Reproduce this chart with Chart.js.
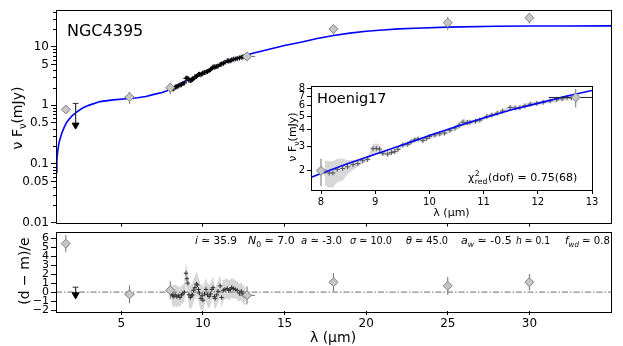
<!DOCTYPE html>
<html><head><meta charset="utf-8">
<script src="https://cdn.jsdelivr.net/npm/chart.js@4.4.0/dist/chart.umd.min.js"></script>
<style>
html,body{margin:0;padding:0;background:#fff;}
#wrap{position:relative;width:623px;height:346px;overflow:hidden;background:#fff;}
canvas{position:absolute;}
</style></head><body>
<div id="wrap">
<canvas id="main" width="623" height="228" style="left:0;top:0;width:623px;height:228px;z-index:1"></canvas>
<canvas id="resid" width="623" height="120" style="left:0;top:226px;width:623px;height:120px;z-index:2"></canvas>
<canvas id="inset" width="345" height="140" style="left:260px;top:80px;width:345px;height:140px;z-index:3"></canvas>
</div>
<script>
// ---------------- data ----------------
const modelLam  = [1.0,1.05,1.1,1.15,1.2,1.3,1.4,1.5,1.65,1.8,2.0,2.3,2.66,3.0,3.7,4.5,5.5,6.0,6.5,7.0,7.5,7.8,8.0,8.5,9.0,9.5,10.0,10.5,11.0,11.5,12.0,12.5,13.0,14.0,15.0,16.0,17.0,18.0,19.0,20.0,21.0,22.0,23.0,25.0,28.0,30.0,32.0,35.0];
const modelFlux = [0.072,0.11,0.16,0.20,0.24,0.30,0.36,0.42,0.51,0.58,0.67,0.78,0.91,1.0,1.16,1.24,1.31,1.35,1.42,1.54,1.66,1.78,1.91,2.26,2.64,3.08,3.62,4.2,4.86,5.55,6.2,6.95,7.7,9.0,10.5,12.0,13.9,15.6,17.1,18.4,19.4,20.2,20.8,21.7,22.4,22.6,22.7,22.8];

const photLam      = [1.6, 5.5, 8.0, 12.7, 18.0, 25.0, 30.0];
const photFlux     = [0.85, 1.38, 2.0, 6.85, 20.0, 25.8, 31.4];
const photErr      = [0, 0.32, 0.45, 1.05, 4.0, 6.5, 6.5];
const photLamErr   = [0, 0.3, 0, 0.5, 0, 0, 0];
const photResid    = [5.4, -0.25, 0.2, -0.35, 1.1, 0.7, 1.1];
const photResidErr = [0.95, 1.0, 1.0, 1.0, 1.0, 1.0, 0.9];

const ulLam = [2.2];
const ulTop = [1.08];
const ulTip = [0.46];
const ulResid = [-0.3];
const ulResidTop = [0.55];

const specLam = [8.07,8.15,8.22,8.30,8.40,8.49,8.59,8.68,8.77,8.86,8.96,9.02,9.08,9.14,9.23,9.30,9.36,9.42,9.51,9.60,9.66,9.73,9.79,9.88,9.95,10.00,10.10,10.19,10.28,10.38,10.47,10.55,10.62,10.70,10.75,10.85,10.93,11.06,11.15,11.25,11.35,11.49,11.58,11.67,11.76,11.86,11.98,12.10,12.23,12.35,12.45,12.54,12.62];
const specFlux = [1.97,1.93,1.93,2.05,2.08,2.14,2.22,2.26,2.37,2.42,2.90,2.91,2.88,2.68,2.65,2.72,2.76,2.87,3.09,3.12,3.25,3.36,3.41,3.33,3.45,3.56,3.65,3.72,3.77,3.95,4.10,4.30,4.52,4.50,4.52,4.60,4.68,4.98,5.10,5.25,5.45,5.78,5.75,5.78,5.95,6.12,6.20,6.32,6.46,6.60,6.70,6.83,6.80];
const specErr  = [0.40,0.42,0.42,0.40,0.38,0.25,0.18,0.12,0.10,0.10,0.25,0.25,0.22,0.10,0.10,0.10,0.10,0.10,0.12,0.12,0.12,0.12,0.12,0.12,0.12,0.13,0.13,0.13,0.13,0.14,0.15,0.25,0.28,0.20,0.15,0.15,0.15,0.16,0.16,0.17,0.18,0.20,0.18,0.18,0.18,0.19,0.20,0.20,0.20,0.22,0.24,0.25,0.25];
const specResid    = [-0.2,-0.4,-0.5,-0.3,-0.5,-0.4,-0.6,-0.3,-0.2,0.0,2.1,1.5,1.0,-0.3,-0.6,-0.4,-0.3,0.2,0.5,0.9,0.8,0.3,-0.1,-0.7,-0.4,-0.9,-0.2,0.3,-0.3,-0.5,-0.2,0.3,0.5,-0.5,-0.7,-0.3,0.1,0.7,-0.6,0.2,0.3,0.4,0.2,0.3,0.5,0.4,0.3,0.2,-0.1,0.1,-0.2,-0.4,-0.5];
const specResidErr = [1.1,1.2,1.2,1.2,1.2,1.1,1.1,1.0,1.0,1.1,1.2,1.2,1.2,1.3,1.3,1.3,1.3,1.3,1.3,1.3,1.3,1.3,1.4,1.4,1.4,1.4,1.3,1.3,1.3,1.3,1.2,1.2,1.2,1.2,1.2,1.2,1.2,1.2,1.2,1.2,1.1,1.1,1.1,1.1,1.1,1.1,1.0,1.0,1.0,1.0,1.0,1.0,1.0];

const xTicksMain   = [5,10,15,20,25,30];
const yTicksMain   = [0.01,0.05,0.1,0.5,1,5,10];
const yLabelsMain  = ['0.01','0.05','0.1','0.5','1','5','10'];
const yMinorMain   = [0.02,0.03,0.04,0.06,0.07,0.08,0.09,0.2,0.3,0.4,0.6,0.7,0.8,0.9,2,3,4,6,7,8,9,20,30,40];
const yTicksResid  = [-2,-1,0,1,2,3,4,5,6];
const xTicksInset  = [8,9,10,11,12,13];
const yTicksInset  = [2,3,4,5,6,7,8];

// ---------------- helpers ----------------
const FONT = "'DejaVu Sans', 'Noto Sans', sans-serif";
Chart.defaults.font.family = FONT;
Chart.defaults.color = '#000';

const pts = (xs, ys) => xs.map((x, i) => ({x, y: ys[i]}));
function errV(xs, ys, es, color, order) {
  const out = [];
  xs.forEach((x, i) => { if (!es[i]) return;
    out.push({data: [{x, y: ys[i] - es[i]}, {x, y: ys[i] + es[i]}], showLine: true, borderColor: color, borderWidth: 1, pointRadius: 0, fill: false, order}); });
  return out;
}
function errH(xs, ys, es, color, order) {
  const out = [];
  xs.forEach((x, i) => { if (!es[i]) return;
    out.push({data: [{x: x - es[i], y: ys[i]}, {x: x + es[i], y: ys[i]}], showLine: true, borderColor: color, borderWidth: 1, pointRadius: 0, fill: false, order}); });
  return out;
}
function upperLimit(xs, tops, tips, color, order) {
  const out = [];
  xs.forEach((x, i) => {
    out.push({data: [{x, y: tops[i]}, {x, y: tips[i]}], showLine: true, borderColor: color, borderWidth: 1, pointRadius: 0, order});
    out.push({data: [{x: x - 0.18, y: tops[i]}, {x: x + 0.18, y: tops[i]}], showLine: true, borderColor: color, borderWidth: 1, pointRadius: 0, order});
  });
  out.push({data: pts(xs, tips), pointStyle: 'triangle', rotation: 180, pointRadius: 4, backgroundColor: '#000', borderColor: '#000', borderWidth: 1, order: 0});
  return out;
}
function band(xs, ys, es, color, order) {
  return [
    {data: xs.map((x, i) => ({x, y: ys[i] - es[i]})), showLine: true, borderWidth: 0, borderColor: 'rgba(0,0,0,0)', pointRadius: 0, fill: false, order},
    {data: xs.map((x, i) => ({x, y: ys[i] + es[i]})), showLine: true, borderWidth: 0, borderColor: 'rgba(0,0,0,0)', pointRadius: 0, fill: '-1', backgroundColor: color, order}
  ];
}
function fixAxis(size, horizontal) {
  return s => { if (horizontal) s.height = size; else s.width = size;
    s.paddingLeft = 0; s.paddingRight = 0; s.paddingTop = 0; s.paddingBottom = 0; };
}
function fontFor(s, size) {
  const sz = (s.sub || s.sup) ? size * 0.7 : size;
  return (s.it ? 'italic ' : '') + sz + 'px ' + FONT;
}
function rich(ctx, x, y, segs, size, draw) {
  let cx = x;
  for (const s of segs) {
    if (s.stack) {
      ctx.font = size * 0.7 + 'px ' + FONT;
      const w1 = ctx.measureText(s.stack[0]).width, w2 = ctx.measureText(s.stack[1]).width;
      if (draw) { ctx.fillText(s.stack[0], cx + 0.5, y - size * 0.45); ctx.fillText(s.stack[1], cx + 0.5, y + size * 0.25); }
      cx += Math.max(w1, w2) + 1; continue;
    }
    ctx.font = fontFor(s, size);
    const dy = s.sub ? size * 0.25 : (s.sup ? -size * 0.42 : 0);
    if (draw) ctx.fillText(s.t, cx, y + dy);
    cx += ctx.measureText(s.t).width;
  }
  return cx - x;
}
function richAt(ctx, x, y, segs, size, maxW) {
  ctx.save();
  ctx.textBaseline = 'alphabetic'; ctx.textAlign = 'left'; ctx.fillStyle = '#000';
  const w = rich(ctx, 0, 0, segs, size, false);
  let sx = 1; if (maxW && w > maxW) sx = maxW / w;
  ctx.translate(x, y); ctx.scale(sx, 1);
  rich(ctx, 0, 0, segs, size, true);
  ctx.restore();
}
function richCenter(ctx, cx, cy, segs, size, rotate) {
  ctx.save();
  ctx.textBaseline = 'alphabetic'; ctx.textAlign = 'left'; ctx.fillStyle = '#000';
  const w = rich(ctx, 0, 0, segs, size, false);
  ctx.translate(cx, cy); if (rotate) ctx.rotate(-Math.PI / 2);
  rich(ctx, -w / 2, size * 0.36, segs, size, true);
  ctx.restore();
}
const framePlugin = {
  id: 'frame',
  beforeDraw(chart, args, opts) {
    if (!opts.bg) return;
    const a = chart.chartArea, ctx = chart.ctx;
    ctx.save(); ctx.fillStyle = '#fff'; ctx.fillRect(a.left, a.top, a.right - a.left, a.bottom - a.top); ctx.restore();
  },
  afterDraw(chart, args, opts) {
    const a = chart.chartArea, ctx = chart.ctx;
    ctx.save(); ctx.strokeStyle = '#000'; ctx.lineWidth = 1;
    ctx.strokeRect(Math.round(a.left) + 0.5, Math.round(a.top) + 0.5, Math.round(a.right - a.left), Math.round(a.bottom - a.top));
    ctx.restore();
    if (opts.extra) opts.extra(chart);
  }
};
Chart.register(framePlugin);

function baseOptions(padding, scales, extra, bg) {
  return {
    responsive: false, maintainAspectRatio: false, devicePixelRatio: 1, animation: false, events: [],
    layout: {padding},
    plugins: {legend: {display: false}, tooltip: {enabled: false}, frame: {extra, bg}},
    scales
  };
}
const tickGrid = len => ({drawOnChartArea: false, drawTicks: true, tickLength: len, color: '#000', tickColor: '#000', tickWidth: 1});

// ---------------- main panel ----------------
const diamondStyle = {pointStyle: 'rectRot', pointRadius: 4.5, backgroundColor: '#c6c6c6', borderColor: '#808080', borderWidth: 1, showLine: false};
const ERR = '#6e6e6e';

new Chart(document.getElementById('main'), {
  type: 'scatter',
  data: {datasets: [
    {data: pts(photLam, photFlux), ...diamondStyle, order: 0},
    ...upperLimit(ulLam, ulTop, ulTip, '#333', 2),
    {data: pts(specLam, specFlux), pointStyle: 'cross', pointRadius: 2.5, borderColor: '#000', borderWidth: 1.2, showLine: false, order: 1},
    ...errV(photLam, photFlux, photErr, ERR, 2),
    ...errH(photLam, photFlux, photLamErr, ERR, 2),
    {data: pts(modelLam, modelFlux), showLine: true, borderColor: '#0000ff', borderWidth: 1.6, pointRadius: 0, tension: 0, order: 3}
  ]},
  options: baseOptions({left: 0, top: 10, right: 12, bottom: 0}, {
    x: {type: 'linear', min: 1, max: 35,
        afterBuildTicks: s => { s.ticks = xTicksMain.map(v => ({value: v})); },
        ticks: {display: false}, grid: tickGrid(4), border: {display: false}, afterFit: fixAxis(4, true)},
    y: {type: 'logarithmic', min: 0.01, max: 42.5,
        afterBuildTicks: s => { s.ticks = yTicksMain.map(v => ({value: v})); },
        ticks: {callback: v => yLabelsMain[yTicksMain.indexOf(v)], font: {size: 12}, padding: 2, autoSkip: false},
        grid: tickGrid(5), border: {display: false}, afterFit: fixAxis(56, false)}
  }, chart => {
    const ctx = chart.ctx, a = chart.chartArea, ys = chart.scales.y;
    ctx.save(); ctx.strokeStyle = '#000'; ctx.lineWidth = 1; ctx.beginPath();
    yMinorMain.forEach(v => { const y = Math.round(ys.getPixelForValue(v)) + 0.5; ctx.moveTo(a.left - 3, y); ctx.lineTo(a.left, y); });
    ctx.stroke(); ctx.restore();
    richAt(ctx, 67, 36, [{t: 'NGC4395'}], 16);
    richCenter(ctx, 17, 118, [{t: 'ν F'}, {t: 'ν', sub: true}, {t: '(mJy)'}], 14, true);
  }, false)
});

// ---------------- residual panel ----------------
new Chart(document.getElementById('resid'), {
  type: 'scatter',
  data: {datasets: [
    {data: pts(photLam, photResid), ...diamondStyle, order: 0},
    ...upperLimit(ulLam, ulResidTop, ulResid, '#333', 2),
    {data: pts(specLam, specResid), pointStyle: 'cross', pointRadius: 2.2, borderColor: '#333', borderWidth: 1, showLine: false, order: 1},
    ...errV(photLam, photResid, photResidErr, ERR, 2),
    ...errH(photLam, photResid, photLamErr, ERR, 2),
    {data: [{x: 1, y: 0}, {x: 35, y: 0}], showLine: true, borderColor: '#8c8c8c', borderWidth: 1.3, borderDash: [6, 2, 1.5, 2], pointRadius: 0, order: 3},
    ...band(specLam, specResid, specResidErr, 'rgba(200,200,200,0.75)', 5)
  ]},
  options: baseOptions({left: 0, top: 2, right: 12, bottom: 0}, {
    x: {type: 'linear', min: 1, max: 35,
        afterBuildTicks: s => { s.ticks = xTicksMain.map(v => ({value: v})); },
        ticks: {font: {size: 12}, padding: 2, autoSkip: false, maxRotation: 0},
        grid: tickGrid(4), border: {display: false}, afterFit: fixAxis(35, true)},
    y: {type: 'linear', min: -2.1, max: 6.75,
        afterBuildTicks: s => { s.ticks = yTicksResid.map(v => ({value: v})); },
        ticks: {callback: v => String(v).replace('-', '−'), font: {size: 11}, padding: 2, autoSkip: false},
        grid: tickGrid(5), border: {display: false}, afterFit: fixAxis(56, false)}
  }, chart => {
    const ctx = chart.ctx;
    richCenter(ctx, 24, 45, [{t: '(d − m)/e'}], 14, true);
    richCenter(ctx, 333, 111, [{t: 'λ (μm)'}], 14, false);
    const S = 11, Y = 18;
    richAt(ctx, 195, Y, [{t: 'i', it: true}, {t: ' ≃ 35.9'}], S, 42);
    richAt(ctx, 248, Y, [{t: 'N', it: true}, {t: '0', sub: true}, {t: ' ≃ 7.0'}], S, 49);
    richAt(ctx, 301, Y, [{t: 'a', it: true}, {t: ' ≃ -3.0'}], S, 41);
    richAt(ctx, 350, Y, [{t: 'σ', it: true}, {t: ' ≃ 10.0'}], S, 42);
    richAt(ctx, 406, Y, [{t: 'θ', it: true}, {t: ' ≃ 45.0'}], S, 42);
    richAt(ctx, 461, Y, [{t: 'a', it: true}, {t: 'w', it: true, sub: true}, {t: ' ≃ -0.5'}], S, 52);
    richAt(ctx, 516, Y, [{t: 'h', it: true}, {t: ' ≃ 0.1'}], S, 34);
    richAt(ctx, 565, Y, [{t: 'f', it: true}, {t: 'wd', it: true, sub: true}, {t: ' ≃ 0.8'}], S, 45);
  }, false)
});

// ---------------- inset ----------------
new Chart(document.getElementById('inset'), {
  type: 'scatter',
  data: {datasets: [
    {data: pts(photLam, photFlux), ...diamondStyle, pointRadius: 4.5, order: 0},
    ...errV(photLam, photFlux, photErr, ERR, 1),
    ...errH(photLam, photFlux, photLamErr, '#222', 1),
    {data: pts(modelLam, modelFlux), showLine: true, borderColor: '#0000ff', borderWidth: 1.6, pointRadius: 0, tension: 0, order: 2},
    {data: pts(specLam, specFlux), pointStyle: 'cross', pointRadius: 2.5, borderColor: '#555', borderWidth: 1, showLine: false, order: 3},
    ...band(specLam, specFlux, specErr, 'rgba(205,205,205,0.8)', 5)
  ]},
  options: baseOptions({left: 0, top: 6, right: 13, bottom: 0}, {
    x: {type: 'linear', min: 7.815, max: 13,
        afterBuildTicks: s => { s.ticks = xTicksInset.map(v => ({value: v})); },
        ticks: {font: {size: 10}, padding: 2, autoSkip: false, maxRotation: 0},
        grid: tickGrid(4), border: {display: false}, afterFit: fixAxis(30, true)},
    y: {type: 'logarithmic', min: 1.45, max: 8.3,
        afterBuildTicks: s => { s.ticks = yTicksInset.map(v => ({value: v})); },
        ticks: {callback: v => String(v), font: {size: 10}, padding: 2, autoSkip: false},
        grid: tickGrid(4), border: {display: false}, afterFit: fixAxis(51, false)}
  }, chart => {
    const ctx = chart.ctx;
    richAt(ctx, 57, 23, [{t: 'Hoenig17'}], 14.5);
    richAt(ctx, 208, 101, [{t: 'χ'}, {stack: ['2', 'red']}, {t: '(dof) = 0.75(68)'}], 11, 111);
    richCenter(ctx, 32, 57, [{t: 'ν F'}, {t: 'ν', sub: true}, {t: '(mJy)'}], 11, true);
    richCenter(ctx, 191.5, 132, [{t: 'λ (μm)'}], 11, false);
  }, true)
});
</script>
</body></html>
